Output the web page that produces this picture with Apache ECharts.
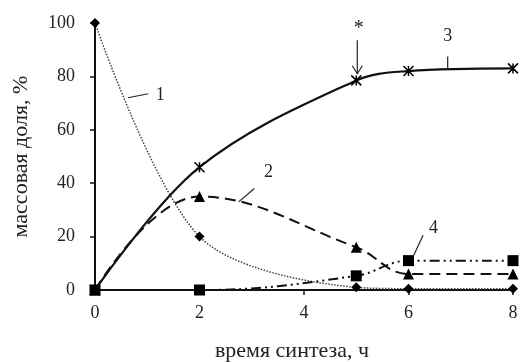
<!DOCTYPE html>
<html><head><meta charset="utf-8">
<script src="https://cdn.jsdelivr.net/npm/echarts@6/dist/echarts.min.js"></script>
<style>html,body{margin:0;padding:0;background:#fff}#c{width:520px;height:362px}</style>
</head><body><div id="c"></div>
<script>
var xValues = [0, 2, 5, 6, 8];
var s1 = [100, 20, 1, 0.5, 0.5];
var s2 = [0, 35, 16, 6, 6];
var s3 = [0, 46, 78.5, 82, 83];
var s4 = [0, 0, 5.3, 11, 11];
var xTicks = [0, 2, 4, 6, 8];
var yTicks = [0, 20, 40, 60, 80, 100];
var seriesLabels = ['1', '2', '3', '4'];

function pairs(arr){ return xValues.map(function(x,i){return [x, arr[i]];}); }
var F = 'Liberation Serif, Times New Roman, serif';
var chart = echarts.init(document.getElementById('c'), null, {renderer:'canvas'});
var star = 'path://M0,0L10,10M10,0L0,10M5,0L5,10';
chart.setOption({
  animation:false,
  backgroundColor:'#fff',
  grid:{left:95, right:7, top:23, bottom:72, containLabel:false, outerBoundsMode:'none'},
  xAxis:{type:'value', min:0, max:8, interval:2,
    name:'время синтеза, ч', nameLocation:'middle', nameGap:50,
    nameTextStyle:{fontFamily:F, fontSize:22, color:'#222', padding:[0,24,0,0]},
    axisLine:{lineStyle:{color:'#111', width:2}},
    axisTick:{show:true, inside:false, length:5, lineStyle:{color:'#111', width:1.5}},
    axisLabel:{fontFamily:F, fontSize:18, color:'#222', margin:14,
      formatter:function(v){return xTicks.indexOf(v)>=0? String(v):'';}},
    splitLine:{show:false}},
  yAxis:{type:'value', min:0, max:100, interval:20,
    name:'массовая доля, %', nameLocation:'middle', nameGap:63, nameRotate:90,
    nameTextStyle:{fontFamily:F, fontSize:22, color:'#222'},
    axisLine:{show:true, lineStyle:{color:'#111', width:2}},
    axisTick:{show:true, inside:false, length:5, lineStyle:{color:'#111', width:1.5}},
    axisLabel:{fontFamily:F, fontSize:18, color:'#222', margin:20,
      formatter:function(v){return yTicks.indexOf(v)>=0? String(v):'';}},
    splitLine:{show:false}},
  series:[
    {name:seriesLabels[0], type:'line', data:pairs(s1), smooth:0.3, symbol:'diamond', symbolSize:10,
      lineStyle:{color:'#444', width:1.5, type:[1.5,1.5]}, itemStyle:{color:'#000'}, z:3},
    {name:seriesLabels[1], type:'line', data:pairs(s2), smooth:0.4, symbol:'triangle', symbolSize:11,
      lineStyle:{color:'#111', width:2, type:[11,6]}, itemStyle:{color:'#000'}, z:4},
    {name:seriesLabels[2], type:'line', data:pairs(s3), smooth:0.35, symbol:star, symbolSize:10,
      lineStyle:{color:'#111', width:2.2, type:'solid'}, itemStyle:{color:'#000', borderColor:'#000', borderWidth:1.5}, z:5},
    {name:seriesLabels[3], type:'line', data:pairs(s4), smooth:0.4, symbol:'rect', symbolSize:11,
      lineStyle:{color:'#111', width:2, type:[10,4,2,4,2,4]}, itemStyle:{color:'#000'}, z:6}
  ]
});
function P(x,y){ return chart.convertToPixel({gridIndex:0},[x,y]); }
var g = [];
function seg(a,b){ var p=P(a[0],a[1]), q=P(b[0],b[1]); g.push({type:'line', shape:{x1:p[0],y1:p[1],x2:q[0],y2:q[1]}, style:{stroke:'#222', lineWidth:1.2}, z:10}); }
function txt(t,pt,size){ var p=P(pt[0],pt[1]); g.push({type:'text', x:p[0], y:p[1], style:{text:t, font:size+'px '+F, fill:'#222', align:'center', verticalAlign:'middle'}, z:10}); }
// label 1
seg([0.63,72],[1.02,73.5]); txt(seriesLabels[0],[1.25,73],18);
// label 2
seg([2.75,33],[3.05,38]); txt(seriesLabels[1],[3.32,44],18);
// label 3
seg([6.75,82.8],[6.75,87.5]); txt(seriesLabels[2],[6.75,95],18);
// label 4
seg([6.1,13],[6.28,20.5]); txt(seriesLabels[3],[6.48,23],18);
// asterisk arrow
var a1=P(5.02,93.5), a2=P(5.02,81);
g.push({type:'line', shape:{x1:a1[0],y1:a1[1],x2:a2[0],y2:a2[1]}, style:{stroke:'#222', lineWidth:1.2}, z:10});
g.push({type:'polyline', shape:{points:[[a2[0]-5,a2[1]-8],[a2[0],a2[1]],[a2[0]+5,a2[1]-8]]}, style:{stroke:'#222', lineWidth:1.2, fill:null}, z:10});
txt('*',[5.05,98],20);
chart.setOption({graphic:g});
</script></body></html>
